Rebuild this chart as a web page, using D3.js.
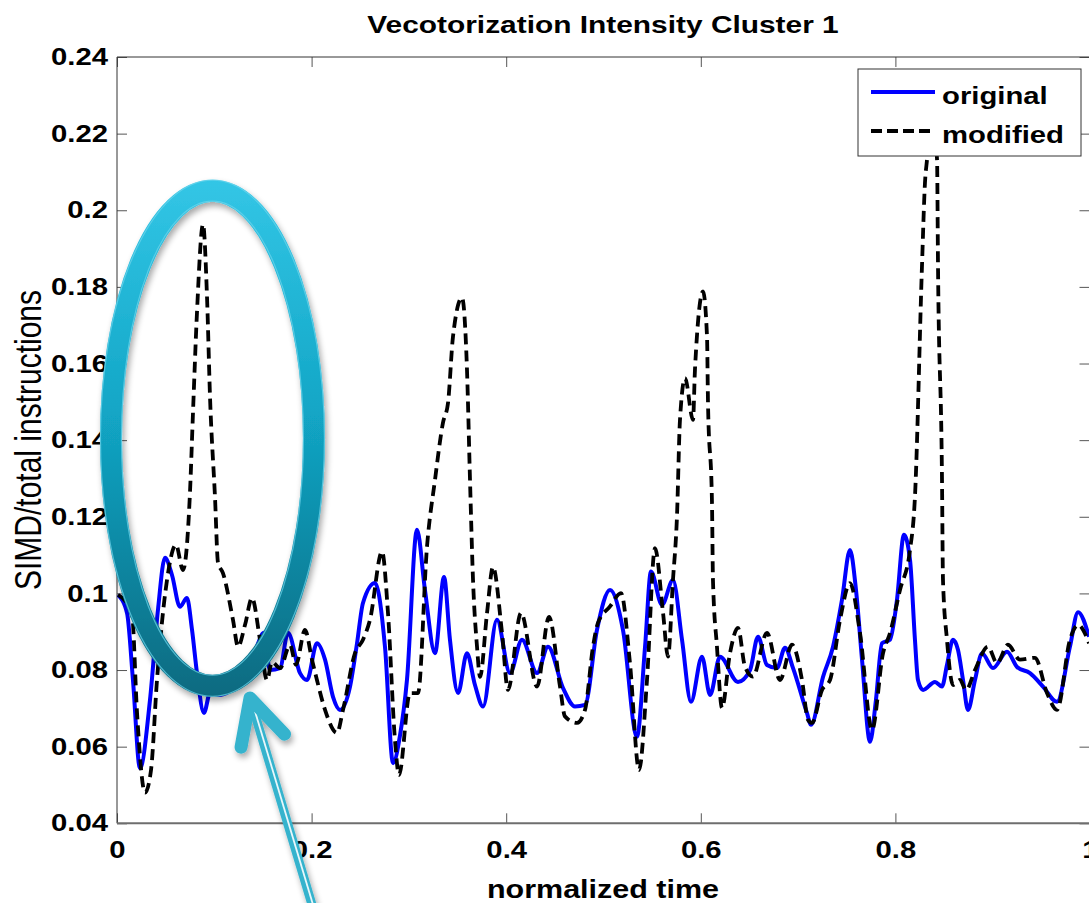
<!DOCTYPE html>
<html>
<head>
<meta charset="utf-8">
<script src="https://cdn.jsdelivr.net/npm/d3@7"></script>
<style>
  body { margin: 0; background: #fff; }
  svg { display: block; }
</style>
</head>
<body>
<svg id="chart" width="1089" height="903"></svg>
<script>
// ---- data ----
const seriesNames = ["original", "modified"];

const timeOriginal = [0.001,0.0103,0.0164,0.0236,0.0339,0.0421,0.0493,0.0565,0.0647,0.0719,0.0771,0.0822,0.0894,0.0956,0.1059,0.1213,0.1367,0.1450,0.1510,0.1572,0.1675,0.1757,0.1881,0.1953,0.2055,0.2138,0.2220,0.2292,0.2395,0.2467,0.2528,0.2652,0.2754,0.2837,0.2909,0.2980,0.3083,0.3165,0.3268,0.3361,0.3422,0.3505,0.3597,0.3679,0.3762,0.3905,0.4039,0.4162,0.4317,0.4430,0.4584,0.4707,0.4810,0.4933,0.5067,0.5200,0.5344,0.5427,0.5488,0.5601,0.5714,0.5807,0.5899,0.6012,0.6095,0.6197,0.6382,0.6506,0.6588,0.6680,0.6783,0.6865,0.6948,0.7091,0.7133,0.7256,0.7359,0.7451,0.7533,0.7595,0.7657,0.7739,0.7800,0.7862,0.7944,0.8016,0.8088,0.8150,0.8201,0.8232,0.8284,0.8407,0.8479,0.8530,0.8592,0.8643,0.8695,0.8746,0.8818,0.8890,0.9003,0.9147,0.9250,0.9383,0.9517,0.9661,0.9794,0.9877,0.9990];
const valueOriginal = [0.0996,0.0949,0.0774,0.0544,0.0722,0.0957,0.1093,0.1048,0.0965,0.0988,0.0905,0.0792,0.0688,0.0740,0.0735,0.0755,0.0800,0.0870,0.0897,0.0800,0.0805,0.0897,0.0792,0.0774,0.0870,0.0827,0.0730,0.0696,0.0757,0.0870,0.0975,0.1027,0.0861,0.0557,0.0630,0.0774,0.1166,0.1009,0.0844,0.1043,0.0879,0.0740,0.0844,0.0761,0.0705,0.0931,0.0792,0.0879,0.0792,0.0861,0.0753,0.0705,0.0709,0.0905,0.1009,0.0905,0.0626,0.0861,0.1057,0.0970,0.1035,0.0879,0.0717,0.0835,0.0735,0.0835,0.0769,0.0800,0.0887,0.0813,0.0805,0.0858,0.0805,0.0688,0.0657,0.0782,0.0861,0.0983,0.1113,0.1009,0.0827,0.0613,0.0722,0.0870,0.0879,0.0983,0.1153,0.1088,0.0879,0.0774,0.0748,0.0769,0.0757,0.0813,0.0879,0.0853,0.0774,0.0696,0.0774,0.0844,0.0805,0.0848,0.0808,0.0792,0.0757,0.0717,0.0861,0.0951,0.0887];

const timeModified = [0.001,0.0103,0.0154,0.0206,0.0288,0.0350,0.0411,0.0514,0.0606,0.0678,0.0750,0.0781,0.0822,0.0884,0.0925,0.0956,0.1007,0.1038,0.1089,0.1192,0.1244,0.1316,0.1387,0.1470,0.1542,0.1593,0.1675,0.1778,0.1840,0.1932,0.2004,0.2055,0.2138,0.2261,0.2323,0.2446,0.2528,0.2600,0.2724,0.2785,0.2857,0.2898,0.3011,0.3094,0.3186,0.3268,0.3350,0.3402,0.3453,0.3546,0.3597,0.3628,0.3659,0.3700,0.3731,0.3803,0.3864,0.3957,0.4018,0.4152,0.4317,0.4440,0.4553,0.4604,0.4728,0.4810,0.4892,0.4943,0.5067,0.5180,0.5272,0.5365,0.5447,0.5529,0.5612,0.5663,0.5714,0.5755,0.5786,0.5838,0.5920,0.5940,0.6023,0.6064,0.6074,0.6115,0.6125,0.6166,0.6218,0.6300,0.6382,0.6454,0.6536,0.6680,0.6814,0.6937,0.7040,0.7102,0.7143,0.7246,0.7328,0.7431,0.7533,0.7636,0.7760,0.7873,0.7945,0.8047,0.8150,0.8201,0.8273,0.8304,0.8325,0.8376,0.8428,0.8438,0.8479,0.8489,0.8530,0.8592,0.8664,0.8726,0.8818,0.8952,0.9044,0.9157,0.9280,0.9435,0.9558,0.9661,0.9794,0.9877,0.9990];
const valueModified = [0.0996,0.0975,0.0949,0.0688,0.0480,0.0540,0.0774,0.1035,0.1127,0.1061,0.1263,0.1472,0.1733,0.1963,0.1775,0.1513,0.1252,0.1080,0.1053,0.0931,0.0861,0.0918,0.0988,0.0879,0.0774,0.0821,0.0805,0.0865,0.0814,0.0905,0.0827,0.0774,0.0696,0.0636,0.0696,0.0844,0.0879,0.0931,0.1109,0.0949,0.0617,0.0526,0.0740,0.0740,0.1122,0.1296,0.1445,0.1497,0.1670,0.1772,0.1584,0.1296,0.1035,0.0861,0.0782,0.0949,0.1069,0.0897,0.0748,0.0949,0.0757,0.0939,0.0757,0.0679,0.0662,0.0696,0.0861,0.0923,0.0966,0.1001,0.0818,0.0539,0.0774,0.1118,0.0949,0.0835,0.1035,0.1200,0.1453,0.1562,0.1453,0.1584,0.1788,0.1670,0.1497,0.1236,0.1035,0.0861,0.0701,0.0844,0.0910,0.0809,0.0783,0.0897,0.0774,0.0866,0.0774,0.0670,0.0662,0.0748,0.0774,0.0931,0.1027,0.0897,0.0644,0.0844,0.0897,0.1009,0.1113,0.1252,0.1853,0.2072,0.2132,0.2263,0.2132,0.1853,0.1296,0.1035,0.0879,0.0761,0.0774,0.0748,0.0800,0.0861,0.0818,0.0866,0.0827,0.0832,0.0740,0.0696,0.0879,0.0918,0.0870];

const xTicks = [0, 0.2, 0.4, 0.6, 0.8, 1];
const xTickLabels = ["0", "0.2", "0.4", "0.6", "0.8", "1"];
const yTicks = [0.04, 0.06, 0.08, 0.10, 0.12, 0.14, 0.16, 0.18, 0.20, 0.22, 0.24];
const yTickLabels = ["0.04", "0.06", "0.08", "0.1", "0.12", "0.14", "0.16", "0.18", "0.2", "0.22", "0.24"];

// highlight ring and pointer arrow, in data units
const ringCenter = [0.0981, 0.1405];
const ringRadius = [0.1043, 0.0646];
const arrowTip = [0.1367, 0.0727];
const arrowTail = [0.2045, 0.0153];

// ---- layout ----
const svg = d3.select("#chart");
const plotLeft = 117, plotRight = 1090, plotTop = 57, plotBottom = 823.3;
const x = d3.scaleLinear().domain([0, 1]).range([plotLeft, plotRight]);
const y = d3.scaleLinear().domain([0.04, 0.24]).range([plotBottom, plotTop]);
const font = "'Liberation Sans', Arial, Helvetica, sans-serif";
const stretch = 1.22;   // glyphs are drawn slightly wide

const defs = svg.append("defs");
defs.append("clipPath").attr("id", "plotClip")
  .append("rect").attr("x", plotLeft).attr("y", plotTop)
  .attr("width", plotRight - plotLeft).attr("height", plotBottom - plotTop);

const grad = defs.append("linearGradient").attr("id", "ringGrad")
  .attr("gradientUnits", "userSpaceOnUse")
  .attr("x1", 0).attr("x2", 0)
  .attr("y1", y(ringCenter[1] + ringRadius[1]) - 12)
  .attr("y2", y(ringCenter[1] - ringRadius[1]) + 12);
grad.append("stop").attr("offset", "0%").attr("stop-color", "#33c6e6");
grad.append("stop").attr("offset", "45%").attr("stop-color", "#12a6c6");
grad.append("stop").attr("offset", "100%").attr("stop-color", "#0a6a80");

const shadow = defs.append("filter").attr("id", "dropShadow")
  .attr("x", "-20%").attr("y", "-20%").attr("width", "140%").attr("height", "140%");
shadow.append("feGaussianBlur").attr("in", "SourceAlpha").attr("stdDeviation", 3).attr("result", "blur");
shadow.append("feOffset").attr("in", "blur").attr("dx", 2).attr("dy", 4).attr("result", "off");
shadow.append("feComponentTransfer").attr("in", "off").attr("result", "soft")
  .append("feFuncA").attr("type", "linear").attr("slope", 0.35);
const merge = shadow.append("feMerge");
merge.append("feMergeNode").attr("in", "soft");
merge.append("feMergeNode").attr("in", "SourceGraphic");

// ---- axes (MATLAB-style inward ticks on all four sides) ----
const axisColor = "#555";
const yAxis = svg.append("g").attr("transform", `translate(${plotLeft},0)`)
  .call(d3.axisLeft(y).tickValues(yTicks).tickFormat((d, i) => yTickLabels[i])
    .tickSizeInner(-10).tickSizeOuter(0).tickPadding(9));
const xAxis = svg.append("g").attr("transform", `translate(0,${plotBottom})`)
  .call(d3.axisBottom(x).tickValues(xTicks).tickFormat((d, i) => xTickLabels[i])
    .tickSizeInner(-10).tickSizeOuter(0).tickPadding(18));
const yAxisR = svg.append("g").attr("transform", `translate(${plotRight - 0.5},0)`)
  .call(d3.axisRight(y).tickValues(yTicks).tickFormat("").tickSizeInner(-10).tickSizeOuter(0));
const xAxisT = svg.append("g").attr("transform", `translate(0,${plotTop})`)
  .call(d3.axisTop(x).tickValues(xTicks).tickFormat("").tickSizeInner(-10).tickSizeOuter(0));

[yAxis, xAxis, yAxisR, xAxisT].forEach(g => {
  g.select(".domain").remove();
  g.selectAll(".tick line").attr("stroke", axisColor).attr("stroke-width", 1);
  g.selectAll(".tick text")
    .attr("fill", "#000")
    .style("font-family", font)
    .style("font-weight", "bold")
    .style("font-size", "24px")
    .attr("transform", `scale(${stretch},1)`);
});
yAxis.selectAll(".tick text").attr("x", -9 / stretch);

// plot frame
svg.append("line").attr("x1", plotLeft).attr("x2", plotRight).attr("y1", plotTop).attr("y2", plotTop)
  .attr("stroke", "#333").attr("stroke-width", 1);
svg.append("line").attr("x1", plotLeft).attr("x2", plotLeft).attr("y1", plotTop).attr("y2", plotBottom)
  .attr("stroke", "#333").attr("stroke-width", 1);
svg.append("line").attr("x1", plotRight - 0.5).attr("x2", plotRight - 0.5).attr("y1", plotTop).attr("y2", plotBottom)
  .attr("stroke", "#333").attr("stroke-width", 1);
svg.append("line").attr("x1", plotLeft).attr("x2", plotRight).attr("y1", plotBottom).attr("y2", plotBottom)
  .attr("stroke", "#6e6e6e").attr("stroke-width", 2);

// ---- series ----
const line = d3.line().x(d => x(d[0])).y(d => y(d[1])).curve(d3.curveMonotoneX);
const plot = svg.append("g").attr("clip-path", "url(#plotClip)");

plot.append("path")
  .datum(timeOriginal.map((t, i) => [t, valueOriginal[i]]))
  .attr("d", line).attr("fill", "none")
  .attr("stroke", "#0000ff").attr("stroke-width", 4)
  .attr("stroke-linejoin", "round");

plot.append("path")
  .datum(timeModified.map((t, i) => [t, valueModified[i]]))
  .attr("d", line).attr("fill", "none")
  .attr("stroke", "#000").attr("stroke-width", 3.8)
  .attr("stroke-dasharray", "11,6");

// ---- legend ----
const legend = svg.append("g");
legend.append("rect").attr("x", 858).attr("y", 69).attr("width", 223).attr("height", 87)
  .attr("fill", "#fff").attr("stroke", "#333").attr("stroke-width", 1);
const legendRows = [
  { name: seriesNames[0], color: "#0000ff", dash: null, ly: 92 },
  { name: seriesNames[1], color: "#000", dash: "11,5", ly: 131 }
];
legendRows.forEach(r => {
  legend.append("line").attr("x1", 871).attr("x2", 935).attr("y1", r.ly).attr("y2", r.ly)
    .attr("stroke", r.color).attr("stroke-width", 3.8)
    .attr("stroke-dasharray", r.dash);
  legend.append("text").attr("transform", `translate(942,${r.ly + 11.5}) scale(${stretch},1)`)
    .text(r.name)
    .style("font-family", font).style("font-weight", "bold").style("font-size", "24px");
});

// ---- titles ----
svg.append("text").attr("transform", `translate(603,33) scale(${stretch},1)`)
  .attr("text-anchor", "middle")
  .text("Vecotorization Intensity Cluster 1")
  .style("font-family", font).style("font-weight", "bold").style("font-size", "24.5px");
svg.append("text").attr("transform", `translate(603,898) scale(${stretch},1)`)
  .attr("text-anchor", "middle")
  .text("normalized time")
  .style("font-family", font).style("font-weight", "bold").style("font-size", "25px");
svg.append("text").attr("transform", `translate(41,440) rotate(-90) scale(1,${stretch})`)
  .attr("text-anchor", "middle")
  .text("SIMD/total instructions")
  .style("font-family", font).style("font-size", "30px");

// ---- highlight ring ----
const rcx = x(ringCenter[0]), rcy = y(ringCenter[1]);
const rrx = x(ringRadius[0]) - x(0), rry = y(0) - y(ringRadius[1]);
const ring = svg.append("g").attr("filter", "url(#dropShadow)");
ring.append("ellipse").attr("cx", rcx).attr("cy", rcy).attr("rx", rrx).attr("ry", rry)
  .attr("fill", "none").attr("stroke", "url(#ringGrad)").attr("stroke-width", 22);
ring.append("ellipse").attr("cx", rcx).attr("cy", rcy).attr("rx", rrx + 10.5).attr("ry", rry + 10.5)
  .attr("fill", "none").attr("stroke", "#6fd6ec").attr("stroke-width", 1.2).attr("opacity", 0.7);
ring.append("ellipse").attr("cx", rcx).attr("cy", rcy).attr("rx", rrx - 10.5).attr("ry", rry - 10.5)
  .attr("fill", "none").attr("stroke", "#6fd6ec").attr("stroke-width", 1.2).attr("opacity", 0.7);

// ---- pointer arrow ----
const tx = x(arrowTip[0]), ty = y(arrowTip[1]);
const ex = x(arrowTail[0]), ey = y(arrowTail[1]);
const ang = Math.atan2(ey - ty, ex - tx);
const barb = 50, spread = 27 * Math.PI / 180;
const arrow = svg.append("g").attr("filter", "url(#dropShadow)");
const arrowColor = "#36b3cd";
arrow.append("line").attr("x1", tx + 4 * Math.cos(ang)).attr("y1", ty + 4 * Math.sin(ang))
  .attr("x2", ex).attr("y2", ey)
  .attr("stroke", arrowColor).attr("stroke-width", 9);
arrow.append("line").attr("x1", tx + 14 * Math.cos(ang) + 1).attr("y1", ty + 14 * Math.sin(ang))
  .attr("x2", ex + 1).attr("y2", ey)
  .attr("stroke", "#e8f7fb").attr("stroke-width", 1.8);
arrow.append("path")
  .attr("d", `M${tx + barb * Math.cos(ang - spread)},${ty + barb * Math.sin(ang - spread)}` +
             `L${tx},${ty}` +
             `L${tx + barb * Math.cos(ang + spread)},${ty + barb * Math.sin(ang + spread)}`)
  .attr("fill", "none").attr("stroke", arrowColor).attr("stroke-width", 13)
  .attr("stroke-linecap", "round").attr("stroke-linejoin", "round");
</script>
</body>
</html>
